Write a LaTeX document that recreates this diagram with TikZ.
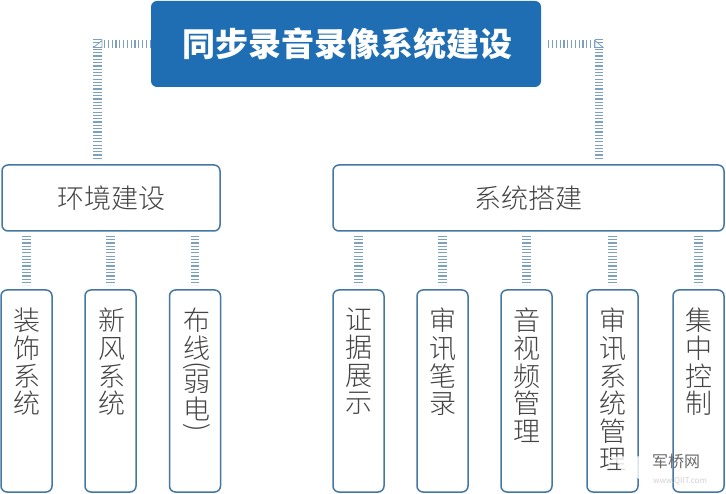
\documentclass[tikz,border=0pt]{standalone}
\usepackage{fontspec}
\usepackage{graphicx}
\usetikzlibrary{shapes.geometric}
\setmainfont{Noto Sans CJK SC}
\newfontfamily\lightcjk{Noto Sans CJK SC Light}
\definecolor{bluebox}{HTML}{1F6DB2}
\definecolor{edgeblue}{HTML}{4478A3}
\definecolor{inkgray}{HTML}{444444}
\newcommand{\vparen}[1]{\rotatebox[origin=c]{-90}{#1}}
\tikzset{
  x=1pt,y=-1pt,
  titlebox/.style={draw=none,fill=bluebox,rounded corners=6pt,minimum width=390pt,minimum height=86pt,inner sep=0pt,text=white,font=\fontsize{33}{36}\selectfont\bfseries},
  midbox/.style={draw=edgeblue,line width=1.5pt,fill=white,rounded corners=6pt,minimum height=66pt,inner sep=0pt,text=inkgray,font=\lightcjk\fontsize{27}{30}\selectfont},
  leafbox/.style={draw=edgeblue,line width=1.5pt,fill=white,rounded corners=6pt,minimum width=51pt,minimum height=202pt,inner sep=0pt},
  leaftext/.style={anchor=north,inner sep=0pt,align=center,text=inkgray,font=\lightcjk\fontsize{27}{27.7}\selectfont},
  conn/.style={draw=edgeblue!70,line width=8.5pt,dash pattern=on 1.2pt off 2.1pt},
  connh/.style={conn,dash pattern=on 1.2pt off 2.6pt},
  cornermark/.style={draw=edgeblue!70,line width=.8pt,fill=white},
  wmstar/.style={star,star points=5,star point ratio=2.4,fill=white,draw=none,opacity=.82,minimum size=46pt,inner sep=0pt},
  wmtext/.style={inner sep=0pt,font=\fontsize{16}{17}\selectfont},
}
\begin{document}
\begin{tikzpicture}
\useasboundingbox (0,0) rectangle (726,494);
\fill[white] (0,0) rectangle (726,494);
\node[titlebox] (title) at (346,44) {\hspace*{2pt}同步录音录像系统建设};
\node[midbox,minimum width=218pt] (env) at (111,198) {环境建设};
\node[midbox,minimum width=391pt] (sys) at (528.5,198) {系统搭建};
\foreach \n/\x in {a/26.5,b/110.5,c/195,d/358.5,e/442.5,f/526.5,g/612.5,h/698.5}
  \node[leafbox] (\n) at (\x,391) {};
\node[leaftext] (ta) at (a.center |- 0,308) {装\\饰\\系\\统};
\node[leaftext] (tb) at ([xshift=1pt]b.center |- 0,308) {新\\风\\系\\统};
\node[leaftext] (tc) at ([xshift=1.5pt]c.center |- 0,308) {布\\线\\[-12pt]\vparen{(}\\[-10pt]弱\\电\\[-11pt]\vparen{)}};
\node[leaftext] (td) at (d.center |- 0,308) {证\\据\\展\\示};
\node[leaftext] (te) at (e.center |- 0,308) {审\\讯\\笔\\录};
\node[leaftext] (tf) at (f.center |- 0,308) {音\\视\\频\\管\\理};
\node[leaftext] (tg) at (g.center |- 0,308) {审\\讯\\系\\统\\管\\理};
\node[leaftext] (th) at (h.center |- 0,308) {集\\中\\控\\制};
% connectors
\coordinate (lc) at (97.5,44);
\coordinate (rc) at (599,44);
\coordinate (lb) at (97.5,161);
\coordinate (rb) at (599,161);
\draw[connh] (title.west |- lc) -- ([xshift=5pt]lc);
\draw[conn] ([yshift=5pt]lc) -- (lb);
\draw[connh] ([xshift=7pt]title.east |- rc) -- ([xshift=-5pt]rc);
\draw[conn] ([yshift=5pt]rc) -- (rb);
\draw[cornermark] (93.5,47.5) -- (102,40.5) -- (102,47.5) -- cycle;
\draw[cornermark] (595,40.5) -- (603,47.5) -- (595,47.5) -- cycle;
\foreach \p/\n in {env/a,env/b,env/c,sys/d,sys/e,sys/f,sys/g,sys/h}
  \draw[conn] (\p.south -| \n.north) ++(0,4) -- ([yshift=4pt]\n.north);
% watermark
\node[wmstar] (wmstar) at (631,464) {};
\node[wmtext,text=inkgray!80] (wm) at (676,461) {军桥网};
\node[wmtext,text=gray!35,font=\fontsize{8}{9}\selectfont\itshape] (wmurl) at (680,481) {www.QIIT.com};
\end{tikzpicture}
\end{document}
